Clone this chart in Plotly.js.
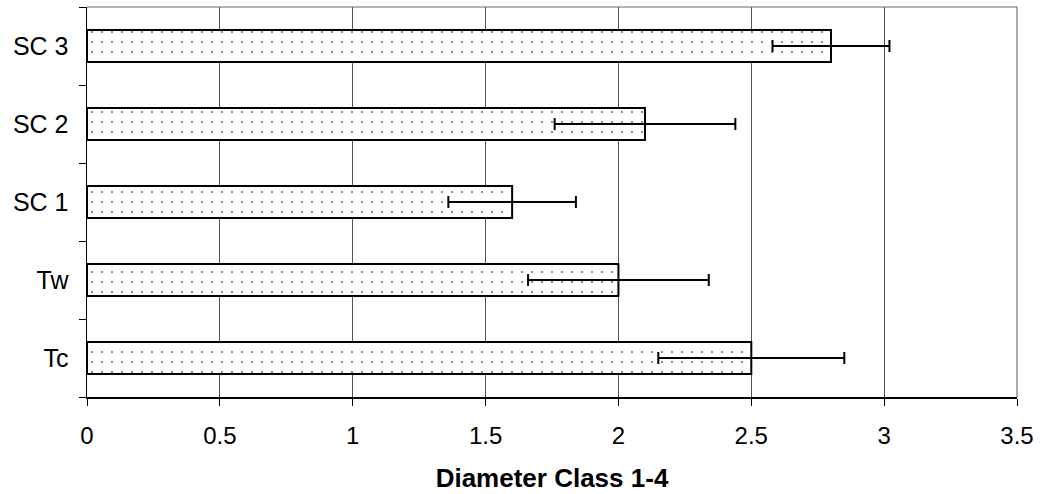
<!DOCTYPE html>
<html>
<head>
<meta charset="utf-8">
<script src="https://cdn.plot.ly/plotly-3.0.1.min.js"></script>
<style>html,body{margin:0;padding:0;background:#fff;}#chart{width:1041px;height:494px;}</style>
</head>
<body>
<div id="chart"></div>
<script>
const categories = ["Tc", "Tw", "SC 1", "SC 2", "SC 3"];
const means = [2.5, 2.0, 1.6, 2.1, 2.8];
const errors = [0.35, 0.34, 0.24, 0.34, 0.22];
const xTicks = [0, 0.5, 1, 1.5, 2, 2.5, 3, 3.5];
const xTickLabels = ["0", "0.5", "1", "1.5", "2", "2.5", "3", "3.5"];

const trace = {
  type: "bar",
  orientation: "h",
  y: categories,
  x: means,
  width: 0.41,
  marker: {
    color: "#ffffff",
    line: {color: "#000000", width: 2},
    pattern: {shape: ".", fgcolor: "#666666", bgcolor: "#ffffff", size: 10, solidity: 0.03, fillmode: "replace"}
  },
  error_x: {type: "data", array: errors, visible: true, color: "#000000", thickness: 2, width: 6}
};

const layout = {
  width: 1041, height: 494,
  margin: {l: 87, r: 24, t: 7, b: 97},
  paper_bgcolor: "#ffffff", plot_bgcolor: "#ffffff",
  showlegend: false,
  font: {family: "Liberation Sans, Arial, sans-serif", color: "#000000", size: 24},
  xaxis: {
    range: [0, 3.5], tickvals: xTicks, ticktext: xTickLabels,
    showgrid: true, gridcolor: "#555555", gridwidth: 1,
    zeroline: false, showline: true, linecolor: "#000000", linewidth: 1.5,
    ticks: "outside", ticklen: 7, tickcolor: "#000000",
    ticklabelstandoff: 10,
    tickfont: {size: 24},
    title: {text: "<b>Diameter Class 1-4</b>", font: {size: 26}, standoff: 20}
  },
  yaxis: {
    type: "category", categoryorder: "array", categoryarray: categories,
    range: [-0.5, 4.5],
    showgrid: false, zeroline: false, showline: true, linecolor: "#000000", linewidth: 1.5,
    ticks: "outside", ticklen: 7, tickcolor: "#000000", tickson: "boundaries",
    ticklabelstandoff: 12,
    tickfont: {size: 25}
  },
  shapes: [
    {type: "line", xref: "paper", yref: "paper", x0: 0, x1: 1, y0: 1, y1: 1, line: {color: "#666666", width: 1}},
    {type: "line", xref: "paper", yref: "paper", x0: 1, x1: 1, y0: 0, y1: 1, line: {color: "#555555", width: 1}}
  ]
};

Plotly.newPlot("chart", [trace], layout, {staticPlot: true, displayModeBar: false});
</script>
</body>
</html>
